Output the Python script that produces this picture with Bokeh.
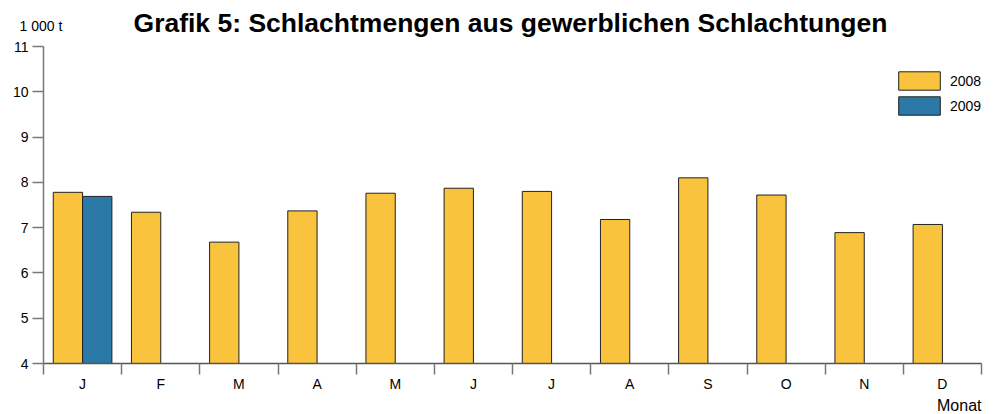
from bokeh.plotting import figure
from bokeh.models import Range1d, FixedTicker, Title, Label, Legend, LegendItem
from bokeh.embed import file_html
from bokeh.resources import INLINE

# ---- data ----
months = ["J", "F", "M", "A", "M", "J", "J", "A", "S", "O", "N", "D"]
values_2008 = [7.78, 7.34, 6.68, 7.37, 7.76, 7.87, 7.80, 7.18, 8.10, 7.72, 6.89, 7.07]
values_2009 = [7.69]
y_ticks = [4, 5, 6, 7, 8, 9, 10, 11]
series_names = ["2008", "2009"]
title_text = "Grafik 5: Schlachtmengen aus gewerblichen Schlachtungen"
y_unit = "1 000 t"
x_label = "Monat"

FONT = "Liberation Sans"
YELLOW = "#F9C33D"
BLUE = "#2A79A6"
AXIS = "#777777"

n = len(months)
ymin, ymax = y_ticks[0], y_ticks[-1]

p = figure(width=994, height=414, x_range=Range1d(0, n), y_range=Range1d(ymin, ymax),
           output_backend="svg", toolbar_location=None,
           min_border_left=43, min_border_right=13, min_border_top=43, min_border_bottom=51)
p.xgrid.visible = False
p.ygrid.visible = False
p.outline_line_color = None
p.background_fill_color = "white"

bar_w = 0.375
x08 = [i + 0.5 - bar_w / 2 for i in range(len(values_2008))]
x09 = [i + 0.5 + bar_w / 2 for i in range(len(values_2009))]

r08 = p.vbar(x=x08, top=values_2008, bottom=ymin, width=bar_w,
             fill_color=YELLOW, line_color="#222222", line_width=1)
r09 = p.vbar(x=x09, top=values_2009, bottom=ymin, width=bar_w,
             fill_color=BLUE, line_color="#222222", line_width=1)

# y axis
ya = p.yaxis[0]
ya.ticker = FixedTicker(ticks=y_ticks)
ya.major_tick_out = 11
ya.major_tick_in = 0
ya.minor_tick_line_color = None
ya.axis_line_color = AXIS
ya.axis_line_width = 1.5
ya.major_tick_line_color = AXIS
ya.major_tick_line_width = 1.5
ya.major_label_text_font = FONT
ya.major_label_text_font_size = "14px"
ya.major_label_text_color = "black"
ya.major_label_standoff = 4

# x axis: labels at month centres, ticks at boundaries
xa = p.xaxis[0]
centers = [i + 0.5 for i in range(n)]
xa.ticker = FixedTicker(ticks=centers, minor_ticks=list(range(n + 1)))
xa.major_label_overrides = {c: m for c, m in zip(centers, months)}
xa.major_tick_line_color = None
xa.major_tick_out = 0
xa.major_tick_in = 0
xa.minor_tick_out = 11
xa.minor_tick_in = 0
xa.minor_tick_line_color = AXIS
xa.minor_tick_line_width = 1.5
xa.axis_line_color = "#555555"
xa.axis_line_width = 1.5
xa.major_label_text_font = FONT
xa.major_label_text_font_size = "14px"
xa.major_label_text_color = "black"
xa.major_label_standoff = 1

# texts (labels placed in the top panel so they are not clipped to the frame)
p.add_layout(Label(x=510, y=22, x_units="canvas", y_units="canvas", text=title_text,
                   text_align="center", text_baseline="alphabetic", text_font=FONT,
                   text_font_size="26.5px", text_font_style="bold", text_color="black",
                   text_line_height=0.5), "above")
p.add_layout(Label(x=19, y=25, x_units="canvas", y_units="canvas", text=y_unit,
                   text_align="left", text_baseline="alphabetic", text_font=FONT,
                   text_font_size="14px", text_color="black",
                   text_line_height=0.5), "above")
p.add_layout(Title(text=x_label, align="right", standoff=0,
                   text_font=FONT, text_font_size="16px", text_font_style="normal",
                   text_color="black"), "below")

legend = Legend(items=[LegendItem(label=series_names[0], renderers=[r08]),
                       LegendItem(label=series_names[1], renderers=[r09])],
                location=(850, 246), orientation="vertical",
                glyph_width=52, glyph_height=23, spacing=2, label_standoff=5,
                padding=0, margin=0, border_line_color=None, background_fill_alpha=0,
                label_text_font=FONT, label_text_font_size="14px", label_text_color="black")
p.add_layout(legend)

open("out.html", "w").write(file_html(p, INLINE))
